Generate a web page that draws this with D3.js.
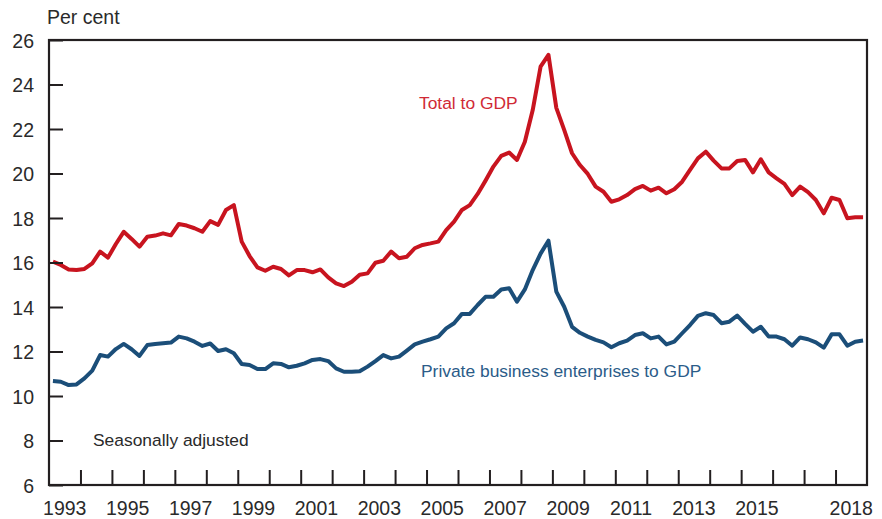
<!DOCTYPE html>
<html>
<head>
<meta charset="utf-8">
<script src="https://cdn.jsdelivr.net/npm/d3@7/dist/d3.min.js"></script>
<style>
  html, body { margin: 0; padding: 0; background: #ffffff; }
  svg { display: block; font-family: "Liberation Sans", Arial, Helvetica, sans-serif; }
</style>
</head>
<body>
<svg id="chart" width="882" height="519"></svg>
<script>
// ---- Data (quarterly, 1993 Q1 – 2018 Q4), per cent of GDP ----
const startYear = 1993;
const endYear = 2019;

const totalToGDP = [
  16.04, 15.89, 15.69, 15.66, 15.71, 15.96, 16.49, 16.22,
  16.83, 17.38, 17.06, 16.71, 17.16, 17.21, 17.31, 17.22,
  17.73, 17.66, 17.54, 17.38, 17.86, 17.69, 18.36, 18.58,
  16.94, 16.29, 15.78, 15.63, 15.81, 15.71, 15.42, 15.66,
  15.66, 15.56, 15.69, 15.33, 15.06, 14.94, 15.14, 15.45,
  15.51, 15.99, 16.08, 16.49, 16.19, 16.26, 16.64, 16.79,
  16.86, 16.94, 17.46, 17.84, 18.36, 18.58, 19.08, 19.68,
  20.31, 20.79, 20.94, 20.61, 21.43, 22.85, 24.80, 25.33,
  22.95, 21.96, 20.91, 20.38, 19.98, 19.41, 19.18, 18.73,
  18.84, 19.03, 19.30, 19.44, 19.23, 19.36, 19.11, 19.29,
  19.63, 20.16, 20.68, 20.98, 20.58, 20.23, 20.23, 20.56,
  20.61, 20.05, 20.64, 20.05, 19.78, 19.53, 19.03, 19.41,
  19.16, 18.81, 18.21, 18.91, 18.81, 17.99, 18.03, 18.03
];

const privateBusinessToGDP = [
  10.67, 10.64, 10.49, 10.52, 10.79, 11.14, 11.84, 11.77,
  12.11, 12.34, 12.10, 11.80, 12.29, 12.34, 12.37, 12.40,
  12.67, 12.59, 12.44, 12.25, 12.36, 12.02, 12.10, 11.92,
  11.44, 11.39, 11.21, 11.21, 11.47, 11.44, 11.29, 11.36,
  11.47, 11.62, 11.66, 11.57, 11.24, 11.09, 11.09, 11.11,
  11.32, 11.57, 11.84, 11.69, 11.77, 12.04, 12.32, 12.44,
  12.55, 12.67, 13.04, 13.27, 13.69, 13.69, 14.09, 14.46,
  14.46, 14.79, 14.84, 14.24, 14.79, 15.66, 16.40, 16.98,
  14.69, 14.01, 13.11, 12.84, 12.67, 12.52, 12.41, 12.19,
  12.37, 12.49, 12.74, 12.82, 12.59, 12.67, 12.32, 12.44,
  12.82, 13.19, 13.60, 13.72, 13.64, 13.27, 13.34, 13.61,
  13.24, 12.89, 13.11, 12.67, 12.67, 12.55, 12.26, 12.63,
  12.55, 12.41, 12.17, 12.77, 12.77, 12.26, 12.44, 12.49
];

// Quarter positions (mid-quarter, in fractional years)
const quarters = totalToGDP.map((_, i) => startYear + Math.floor(i / 4) + (i % 4) / 4 + 0.125);

const yTicks = [6, 8, 10, 12, 14, 16, 18, 20, 22, 24, 26];
const xTickYears = d3.range(startYear + 1, endYear);        // year boundaries 1994..2018
const xLabelYears = [1993, 1995, 1997, 1999, 2001, 2003, 2005, 2007, 2009, 2011, 2013, 2015, 2018];

const seriesLabels = [
  { text: "Total to GDP", series: "total" },
  { text: "Private business enterprises to GDP", series: "private" }
];

// ---- Layout ----
const plot = { left: 49, right: 867, top: 40, bottom: 485 };
const colors = {
  total: "#c8141f",
  private: "#1b4e79",
  totalText: "#d02a35",
  privateText: "#2b5c89",
  axis: "#231f20",
  text: "#2a2a2a"
};

const svg = d3.select("#chart");

const x = d3.scaleLinear().domain([startYear, endYear]).range([plot.left, plot.right]);
const y = d3.scaleLinear().domain([6, 26]).range([plot.bottom, plot.top]);

// Lines
const line = d3.line()
  .x((d, i) => x(quarters[i]))
  .y(d => y(d));

svg.append("path")
  .datum(totalToGDP)
  .attr("fill", "none")
  .attr("stroke", colors.total)
  .attr("stroke-width", 4)
  .attr("stroke-linejoin", "round")
  .attr("d", line);

svg.append("path")
  .datum(privateBusinessToGDP)
  .attr("fill", "none")
  .attr("stroke", colors.private)
  .attr("stroke-width", 4)
  .attr("stroke-linejoin", "round")
  .attr("d", line);

// Y axis (ticks inside, labels outside)
const yAxis = d3.axisLeft(y)
  .tickValues(yTicks)
  .tickSize(-14)
  .tickPadding(15)
  .tickFormat(d3.format("d"));

const gy = svg.append("g")
  .attr("transform", `translate(${plot.left},0)`)
  .call(yAxis);
gy.select(".domain").remove();
gy.selectAll(".tick line").attr("stroke", colors.axis).attr("stroke-width", 2);
gy.selectAll(".tick text")
  .attr("fill", colors.text)
  .attr("font-size", 19.5)
  .attr("dy", "0.36em");

// X axis ticks (year boundaries, inside)
const xAxis = d3.axisBottom(x)
  .tickValues(xTickYears)
  .tickSize(-15)
  .tickFormat("");
const gx = svg.append("g")
  .attr("transform", `translate(0,${plot.bottom})`)
  .call(xAxis);
gx.select(".domain").remove();
gx.selectAll(".tick line").attr("stroke", colors.axis).attr("stroke-width", 2);

// X labels centred in the year
svg.append("g")
  .selectAll("text")
  .data(xLabelYears)
  .join("text")
  .attr("x", d => x(d + 0.5))
  .attr("y", 515)
  .attr("text-anchor", "middle")
  .attr("fill", colors.text)
  .attr("font-size", 19.5)
  .text(d => d);

// Frame
svg.append("rect")
  .attr("x", plot.left)
  .attr("y", plot.top)
  .attr("width", plot.right - plot.left)
  .attr("height", plot.bottom - plot.top)
  .attr("fill", "none")
  .attr("stroke", colors.axis)
  .attr("stroke-width", 2.2);

// Unit label
svg.append("text")
  .attr("x", 47)
  .attr("y", 24)
  .attr("fill", colors.text)
  .attr("font-size", 19.5)
  .text("Per cent");

// Series labels
svg.append("text")
  .attr("x", 419)
  .attr("y", 109)
  .attr("fill", colors.totalText)
  .attr("font-size", 17.4)
  .text(seriesLabels[0].text);

svg.append("text")
  .attr("x", 421)
  .attr("y", 377)
  .attr("fill", colors.privateText)
  .attr("font-size", 17.4)
  .text(seriesLabels[1].text);

svg.append("text")
  .attr("x", 93)
  .attr("y", 446)
  .attr("fill", colors.text)
  .attr("font-size", 17.4)
  .text("Seasonally adjusted");
</script>
</body>
</html>
